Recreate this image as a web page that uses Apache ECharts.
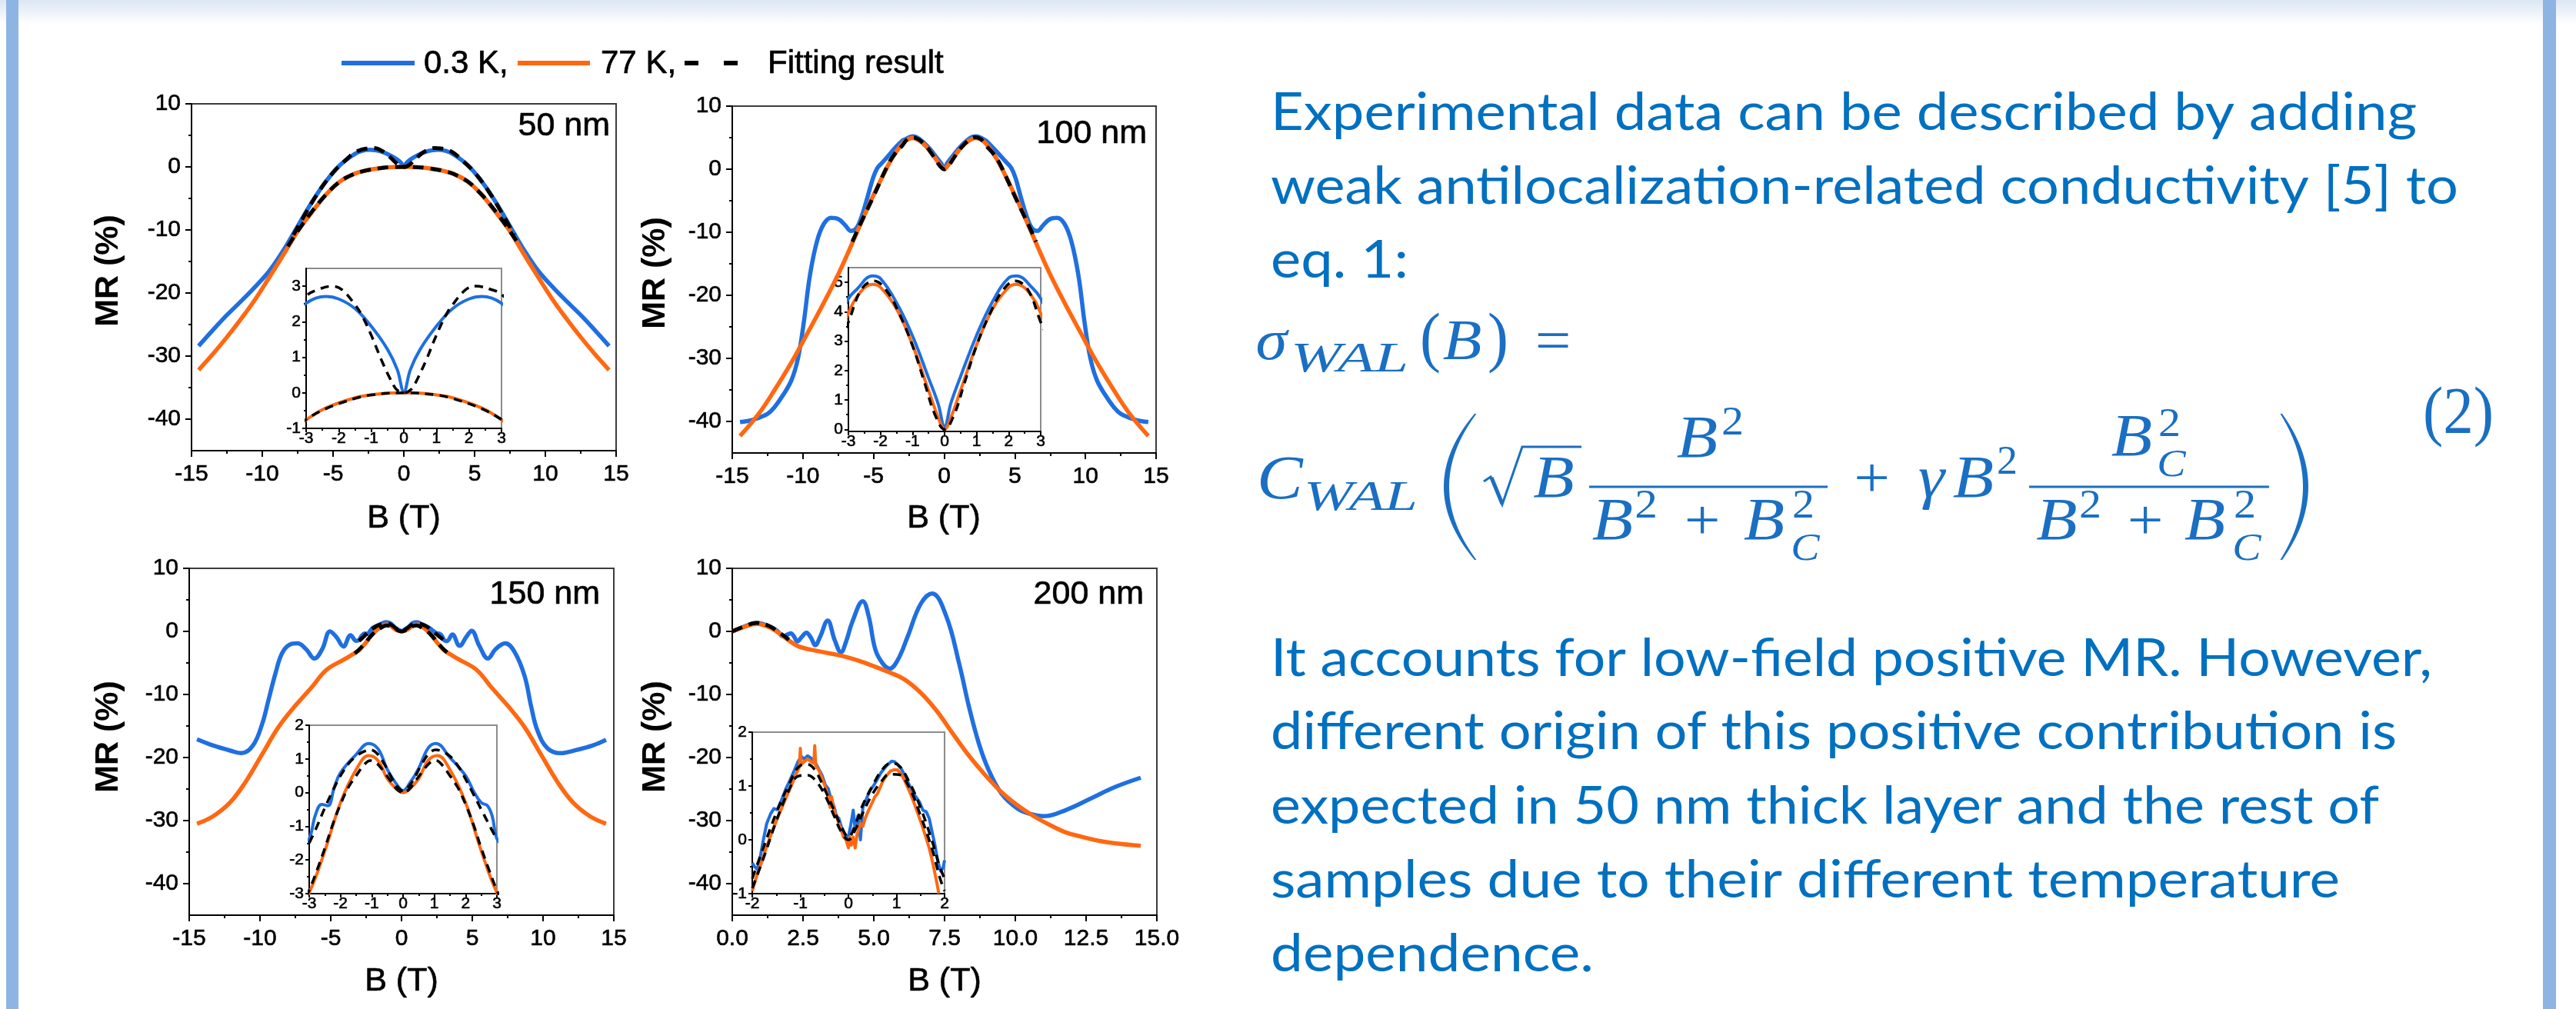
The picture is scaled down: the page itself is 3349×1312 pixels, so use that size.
<!DOCTYPE html>
<html><head><meta charset="utf-8">
<script src="https://cdn.jsdelivr.net/npm/echarts@6/dist/echarts.min.js"></script>
<style>html,body{margin:0;padding:0;background:#fff}#c{width:3349px;height:1312px}</style>
</head><body><div id="c"></div>
<script>
// ---------------- DATA ----------------
const legendLabels = ['0.3 K,', '77 K,', 'Fitting result'];
const panelTitles = ['50 nm', '100 nm', '150 nm', '200 nm'];
const xTitle = 'B (T)', yTitle = 'MR (%)';
const mainYMajors = [10, 0, -10, -20, -30, -40];
const mainYMinors = [5, -5, -15, -25, -35];
const in1YMajors = [-1, 0, 1, 2, 3], in1YMinors = [-0.5, 0.5, 1.5, 2.5];
const in2YMajors = [0, 1, 2, 3, 4, 5], in2YMinors = [0.5, 1.5, 2.5, 3.5, 4.5];
const in3YMajors = [-3, -2, -1, 0, 1, 2], in3YMinors = [-2.5, -1.5, -0.5, 0.5, 1.5];
const in4YMajors = [-1, 0, 1, 2], in4YMinors = [-0.5, 0.5, 1.5];

// 50 nm
const p1Blue = [[-14.5,-28.4],[-13.5,-25.9],[-12.5,-23.5],[-11.5,-21.3],[-10.5,-19.0],[-9.5,-16.5],[-8.5,-13.2],[-7.5,-9.4],[-6.5,-5.6],[-5.5,-2.3],[-4.5,0.3],[-3.5,2.0],[-3.0,2.52],[-2.4,2.71],[-2.0,2.64],[-1.5,2.37],[-1.0,1.87],[-0.5,1.22],[-0.2,0.65],[0,0.03],[0.2,0.65],[0.5,1.22],[1.0,1.87],[1.5,2.37],[2.0,2.64],[2.4,2.71],[3.0,2.52],[3.5,2.0],[4.5,0.3],[5.5,-2.3],[6.5,-5.6],[7.5,-9.4],[8.5,-13.2],[9.5,-16.5],[10.5,-19.0],[11.5,-21.3],[12.5,-23.5],[13.5,-25.9],[14.5,-28.4]];
const p1Orange = [[-14.5,-32.2],[-13.5,-29.7],[-12.5,-27.0],[-11.5,-24.1],[-10.5,-21.0],[-9.5,-17.5],[-8.5,-13.9],[-7.5,-10.2],[-6.5,-7.2],[-5.5,-4.4],[-4.5,-2.3],[-3.5,-1.1],[-3.0,-0.76],[-2.4,-0.43],[-1.5,-0.14],[-1.0,-0.06],[-0.5,-0.01],[0,0],[0.5,-0.01],[1.0,-0.06],[1.5,-0.14],[2.4,-0.43],[3.0,-0.76],[3.5,-1.1],[4.5,-2.3],[5.5,-4.4],[6.5,-7.2],[7.5,-10.2],[8.5,-13.9],[9.5,-17.5],[10.5,-21.0],[11.5,-24.1],[12.5,-27.0],[13.5,-29.7],[14.5,-32.2]];
const p1FitBlue = [[-7.8,-10.8],[-7,-7.6],[-6,-3.9],[-5,-0.9],[-4,1.3],[-3.5,2.25],[-3,2.73],[-2.7,2.88],[-2.2,3.0],[-1.9,2.9],[-1.5,2.48],[-1.3,2.2],[-1.0,1.62],[-0.7,0.95],[-0.45,0.45],[-0.25,0.12],[-0.1,0.02],[0,0],[0.1,0.02],[0.25,0.12],[0.45,0.45],[0.7,0.95],[1.0,1.62],[1.3,2.2],[1.5,2.48],[1.9,2.9],[2.2,3.0],[2.7,2.9],[3,2.77],[3.5,2.25],[4,1.3],[5,-0.9],[6,-3.9],[7,-7.6],[7.8,-10.8]];
const p1FitOrange = [[-8.2,-12.6],[-7.5,-10.2],[-6.5,-7.1],[-5.5,-4.4],[-4.5,-2.3],[-3.5,-1.1],[-3,-0.75],[-2.4,-0.45],[-1.5,-0.16],[-1,-0.06],[0,0],[1,-0.06],[1.5,-0.16],[2.4,-0.45],[3,-0.75],[3.5,-1.1],[4.5,-2.3],[5.5,-4.4],[6.5,-7.1],[7.5,-10.2],[8.2,-12.6]];

// 100 nm
const p2Blue = [[-14.45,-40.1],[-13.5,-39.7],[-12.5,-38.8],[-12.0,-37.7],[-11.4,-35.8],[-10.8,-33.4],[-10.35,-30.0],[-9.95,-24.5],[-9.5,-16.8],[-9.0,-11.4],[-8.5,-8.6],[-8.0,-7.7],[-7.5,-7.9],[-7.0,-8.9],[-6.6,-9.8],[-6.2,-9.3],[-5.8,-7.2],[-5.4,-4.2],[-5.05,-1.5],[-4.75,0.1],[-4.4,1.0],[-4.0,2.0],[-3.5,3.3],[-3.0,4.45],[-2.75,4.75],[-2.25,5.22],[-2.0,5.13],[-1.5,4.31],[-1.0,3.18],[-0.5,1.75],[-0.2,0.87],[0,0.1],[0.2,0.9],[0.5,1.8],[1.0,3.2],[1.5,4.35],[2.0,5.15],[2.25,5.22],[2.75,4.8],[3.0,4.45],[3.5,3.3],[4.0,2.1],[4.4,1.1],[4.75,0.2],[5.05,-1.4],[5.4,-4.2],[5.8,-7.2],[6.2,-9.3],[6.6,-9.8],[7.0,-8.9],[7.5,-7.9],[8.0,-7.7],[8.5,-8.6],[9.0,-11.4],[9.5,-16.8],[9.95,-24.5],[10.35,-30.0],[10.8,-33.4],[11.4,-35.8],[12.0,-37.7],[12.5,-38.8],[13.5,-39.7],[14.45,-40.1]];
const p2Orange = [[-14.45,-42.3],[-13.1,-38.7],[-12.0,-35.0],[-10.8,-30.6],[-9.7,-26.1],[-8.5,-21.1],[-7.4,-16.2],[-6.25,-10.4],[-5.1,-4.6],[-4.0,0.5],[-3.5,2.4],[-3.0,3.95],[-2.6,4.7],[-2.25,4.93],[-2.0,4.83],[-1.5,4.1],[-1.0,2.87],[-0.5,1.33],[-0.2,0.41],[0,0],[0.2,0.41],[0.5,1.33],[1.0,2.87],[1.5,4.1],[2.0,4.83],[2.25,4.93],[2.6,4.7],[3.0,3.95],[3.5,2.4],[4.0,0.5],[5.1,-4.6],[6.25,-10.4],[7.4,-16.2],[8.5,-21.1],[9.7,-26.1],[10.8,-30.6],[12.0,-35.0],[13.1,-38.7],[14.45,-42.3]];
const p2Fit = [[-6.5,-11.5],[-6,-9.0],[-5,-4.3],[-4,0.6],[-3.5,2.4],[-3,3.65],[-2.6,4.75],[-2.2,5.05],[-1.8,4.7],[-1.4,3.9],[-1,2.85],[-0.6,1.5],[-0.3,0.5],[0,0],[0.3,0.5],[0.6,1.5],[1,2.85],[1.4,3.9],[1.8,4.7],[2.2,5.05],[2.6,4.75],[3,3.65],[3.5,2.4],[4,0.6],[5,-4.3],[6,-9.0],[6.5,-11.5]];

// 150 nm
const p3Blue = [[-14.45,-17.1],[-13.3,-18.1],[-12.1,-18.9],[-11.3,-19.3],[-10.5,-18.1],[-9.85,-14.7],[-9.4,-10.9],[-8.9,-6.6],[-8.45,-3.5],[-7.9,-2.1],[-7.35,-1.9],[-6.75,-2.8],[-6.15,-4.3],[-5.6,-2.8],[-5.05,0.0],[-4.6,-0.9],[-4.1,-2.4],[-3.6,-0.6],[-3.2,-1.5],[-3.0,-1.37],[-2.8,-0.66],[-2.6,-0.35],[-2.4,-0.39],[-2.2,0.15],[-2.0,0.59],[-1.5,1.13],[-1.1,1.46],[-0.8,1.3],[-0.5,0.68],[-0.2,0.24],[0,0.06],[0.2,0.26],[0.5,0.72],[0.8,1.32],[1.05,1.46],[1.5,1.04],[2.0,0.5],[2.25,0.05],[2.5,-0.3],[2.7,-0.39],[2.85,-0.7],[3.0,-1.37],[3.2,-1.55],[3.6,-0.5],[4.1,-2.3],[4.6,-0.8],[4.95,0.1],[5.5,-2.3],[6.1,-4.3],[6.65,-2.8],[7.33,-1.9],[8.0,-3.3],[8.7,-7.1],[9.16,-11.9],[9.6,-15.7],[10.3,-18.5],[11.2,-19.3],[12.36,-18.8],[13.5,-18.1],[14.45,-17.2]];
const p3Orange = [[-14.45,-30.5],[-13.3,-29.3],[-12.1,-27.1],[-11.0,-23.8],[-9.85,-19.5],[-8.7,-15.2],[-7.55,-11.9],[-6.4,-9.0],[-5.3,-6.1],[-4.1,-4.5],[-3.5,-3.7],[-3.0,-2.97],[-2.5,-1.73],[-2.0,-0.3],[-1.5,0.68],[-1.1,1.1],[-0.8,0.95],[-0.5,0.41],[-0.2,0.1],[0,0],[0.2,0.1],[0.5,0.41],[0.8,0.95],[1.1,1.1],[1.5,0.68],[2.0,-0.3],[2.5,-1.73],[3.0,-2.97],[3.5,-3.7],[4.1,-4.5],[5.3,-6.1],[6.4,-9.0],[7.55,-11.9],[8.7,-15.2],[9.85,-19.5],[11.0,-23.8],[12.1,-27.1],[13.3,-29.3],[14.45,-30.5]];
const p3FitBlue = [[-3,-1.5],[-2.75,-1.0],[-2.5,-0.45],[-2.25,0.05],[-2,0.5],[-1.75,0.85],[-1.5,1.08],[-1.25,1.22],[-1.05,1.27],[-0.85,1.18],[-0.6,0.85],[-0.4,0.5],[-0.2,0.2],[0,0.05],[0.2,0.2],[0.4,0.5],[0.6,0.85],[0.85,1.18],[1.05,1.27],[1.25,1.22],[1.5,1.08],[1.75,0.8],[2,0.4],[2.25,-0.05],[2.5,-0.5],[2.75,-0.95],[3,-1.4]];
const p3FitOrange = [[-3.3,-3.5],[-3,-2.9],[-2.75,-2.3],[-2.5,-1.65],[-2.25,-0.95],[-2,-0.35],[-1.75,0.15],[-1.5,0.5],[-1.25,0.82],[-1.05,0.95],[-0.85,0.88],[-0.6,0.6],[-0.4,0.35],[-0.2,0.1],[0,0],[0.2,0.1],[0.4,0.35],[0.6,0.6],[0.85,0.88],[1.05,0.95],[1.25,0.82],[1.5,0.5],[1.75,0.15],[2,-0.35],[2.25,-0.95],[2.5,-1.65],[2.75,-2.3],[3,-2.9],[3.3,-3.5]];

// 200 nm
const p4Blue = [[0,0],[0.2,0.35],[0.45,0.8],[0.85,1.35],[1.1,1.15],[1.35,0.75],[1.6,0.05],[1.8,-0.8],[1.95,-0.5],[2.07,-0.3],[2.18,-0.8],[2.3,-1.6],[2.45,-0.9],[2.62,-0.2],[2.78,-1.0],[2.93,-2.2],[3.1,-0.9],[3.37,1.7],[3.62,-1.4],[3.84,-3.3],[4.03,-1.5],[4.24,1.5],[4.61,4.8],[4.82,2.4],[5.05,-2.8],[5.3,-5.0],[5.56,-5.9],[5.85,-4.5],[6.19,-0.9],[6.65,4.3],[7.06,6.0],[7.56,2.4],[8.02,-5.2],[8.36,-11.9],[8.7,-17.6],[9.05,-21.9],[9.51,-25.7],[10.08,-28.1],[10.5,-28.9],[11.0,-29.3],[11.8,-28.3],[12.71,-26.4],[13.51,-24.7],[14.43,-23.2]];
const p4Orange = [[0,0],[0.4,0.7],[0.87,1.2],[1.38,0.5],[1.84,-0.9],[2.3,-2.3],[2.99,-3.1],[3.79,-3.8],[4.36,-4.5],[4.93,-5.4],[5.5,-6.4],[6.08,-7.6],[6.65,-9.7],[7.22,-12.6],[7.79,-16.2],[8.36,-19.7],[8.94,-22.8],[9.51,-25.5],[10.08,-27.6],[10.65,-29.3],[11.22,-30.7],[11.8,-31.9],[12.37,-32.6],[12.94,-33.2],[13.51,-33.6],[14.43,-34.0]];
const p4Fit = [[0,0],[0.4,0.75],[0.85,1.35],[1.3,0.85],[1.7,-0.3],[2.0,-1.3]];
const p4InBlue = [[-2,-0.43],[-1.95,-0.5],[-1.9,-0.55],[-1.85,-0.4],[-1.78,-0.05],[-1.7,0.3],[-1.62,0.48],[-1.55,0.58],[-1.48,0.56],[-1.4,0.72],[-1.3,0.95],[-1.22,1.1],[-1.12,1.3],[-1.05,1.45],[-0.98,1.55],[-0.92,1.5],[-0.85,1.56],[-0.78,1.52],[-0.7,1.45],[-0.62,1.32],[-0.55,1.2],[-0.48,1.02],[-0.42,0.95],[-0.36,0.75],[-0.3,0.62],[-0.25,0.45],[-0.2,0.4],[-0.15,0.25],[-0.1,0.15],[-0.05,0.08],[0,0.05],[0.05,0.28],[0.1,0.55],[0.14,0.2],[0.2,0.45],[0.25,0.0],[0.3,0.6],[0.37,0.75],[0.45,0.92],[0.52,1.0],[0.6,1.12],[0.68,1.25],[0.75,1.33],[0.82,1.4],[0.9,1.46],[0.96,1.45],[1.02,1.4],[1.1,1.32],[1.17,1.2],[1.25,1.05],[1.33,0.9],[1.4,0.8],[1.48,0.7],[1.55,0.55],[1.62,0.52],[1.68,0.4],[1.74,0.15],[1.8,-0.1],[1.86,-0.4],[1.92,-0.58],[1.97,-0.52],[2,-0.38]];
const p4InOrange = [[-2,-0.95],[-1.9,-0.65],[-1.8,-0.4],[-1.7,-0.12],[-1.6,0.12],[-1.5,0.35],[-1.4,0.56],[-1.3,0.78],[-1.2,0.98],[-1.1,1.2],[-1.02,1.35],[-1.0,1.7],[-0.98,1.4],[-0.92,1.45],[-0.85,1.5],[-0.78,1.45],[-0.72,1.42],[-0.7,1.75],[-0.68,1.38],[-0.62,1.3],[-0.55,1.15],[-0.48,0.98],[-0.42,0.8],[-0.38,0.6],[-0.35,0.8],[-0.3,0.55],[-0.25,0.45],[-0.2,0.3],[-0.15,0.18],[-0.1,0.05],[-0.05,0.0],[0,-0.15],[0.03,0.05],[0.06,-0.1],[0.1,0.05],[0.14,-0.15],[0.18,0.1],[0.25,0.3],[0.3,0.25],[0.35,0.4],[0.42,0.55],[0.5,0.7],[0.55,0.8],[0.6,0.85],[0.65,0.95],[0.72,1.1],[0.8,1.2],[0.88,1.28],[0.95,1.3],[1.02,1.3],[1.1,1.22],[1.18,1.08],[1.27,0.9],[1.36,0.7],[1.44,0.5],[1.52,0.3],[1.6,0.08],[1.68,-0.15],[1.76,-0.45],[1.84,-0.8],[1.88,-1.0]];
const p4InFitA = [[-2,-0.72],[-1.75,-0.1],[-1.5,0.5],[-1.25,1.0],[-1.0,1.38],[-0.85,1.4],[-0.7,1.3],[-0.5,0.95],[-0.3,0.55],[-0.15,0.25],[0,0.05],[0.15,0.3],[0.3,0.65],[0.5,1.0],[0.7,1.3],[0.88,1.42],[1.05,1.38],[1.25,1.1],[1.5,0.6],[1.75,-0.05],[1.9,-0.5],[2,-0.72]];
const p4InFitB = [[-2,-0.9],[-1.75,-0.3],[-1.5,0.35],[-1.25,0.9],[-1.05,1.18],[-0.85,1.2],[-0.7,1.12],[-0.5,0.85],[-0.3,0.45],[-0.15,0.15],[0,0],[0.15,0.2],[0.3,0.5],[0.5,0.85],[0.7,1.1],[0.85,1.22],[1.05,1.21],[1.25,1.0],[1.5,0.45],[1.75,-0.2],[1.9,-0.7],[2,-0.95]];

const paraLines1 = ['Experimental data can be described by adding', 'weak antilocalization-related conductivity [5] to', 'eq. 1:'];
const paraLines2 = ['It accounts for low-field positive MR. However,', 'different origin of this positive contribution is', 'expected in 50 nm thick layer and the rest of', 'samples due to their different temperature', 'dependence.'];

// ---------------- STYLE / LAYOUT ----------------
const BLUE = '#1F6FE0', ORANGE = '#FF6811', TXT = '#0070C0', FC = '#1A6FC2';
const SANS = '"Liberation Sans", Arial, sans-serif';
const SERIF = '"Liberation Serif", "Times New Roman", serif';
const mctx = document.createElement('canvas').getContext('2d');
function tw(text, font) { mctx.font = font; return mctx.measureText(text).width; }
function midOff(font) {
  mctx.font = font; const m = mctx.measureText('Hg');
  if (m.fontBoundingBoxAscent !== undefined) return (m.fontBoundingBoxAscent - m.fontBoundingBoxDescent) / 2;
  return parseFloat(font.match(/(\d+)px/)[1]) * 0.34;
}
function txt(text, font, x, baseline, fill, align, extra, stroke) {
  const st = { text: text, font: font, fill: fill, align: align || 'left', textAlign: align || 'left', verticalAlign: 'middle', textVerticalAlign: 'middle' };
  if (stroke) { st.stroke = fill; st.lineWidth = stroke; }
  return Object.assign({ type: 'text', x: x, y: baseline - midOff(font), z: 100, silent: true, style: st }, extra || {});
}
function fit(text, font, x0, x1, baseline, fill) {
  return txt(text, font, x0, baseline, fill, 'left', { scaleX: (x1 - x0) / tw(text, font) });
}
function place(text, font, x0, x1, baseline, fill) {
  const w = tw(text, font), target = x1 - x0;
  const s = Math.max(0.85, Math.min(1.12, target / w));
  return txt(text, font, x0 + (target - w * s) / 2, baseline, fill, 'left', { scaleX: s });
}
function quadPts(ax, ay, cx, cy, bx, by, n) {
  const pts = [];
  for (let i = 0; i <= n; i++) { const t = i / n, u = 1 - t;
    pts.push([u * u * ax + 2 * t * u * cx + t * t * bx, u * u * ay + 2 * t * u * cy + t * t * by]); }
  return pts;
}
function bigParen(xEnd, xApex, top, bottom, thick, dir) {
  const mid = (top + bottom) / 2;
  const outer = quadPts(xEnd, top, 2 * xApex - xEnd, mid, xEnd, bottom, 40);
  const xe2 = xEnd + dir * 2.5, xa2 = xApex + dir * thick;
  const inner = quadPts(xe2, bottom, 2 * xa2 - xe2, mid, xe2, top, 40);
  return { type: 'polygon', z: 100, silent: true, shape: { points: outer.concat(inner) }, style: { fill: FC } };
}

const grids = [
  { left: 249, top: 135, width: 552, height: 451 },
  { left: 952, top: 138, width: 551, height: 451 },
  { left: 246, top: 739, width: 552, height: 451 },
  { left: 952, top: 739, width: 552, height: 451 },
  { left: 398, top: 349, width: 254, height: 208 },
  { left: 1103, top: 348, width: 250, height: 213 },
  { left: 402, top: 943, width: 244, height: 219 },
  { left: 978, top: 952, width: 250, height: 210 }
].map((g, i) => Object.assign({ show: true, borderWidth: 2, borderColor: i < 4 ? '#3c3c3c' : '#8c8c8c', backgroundColor: i < 4 ? 'rgba(0,0,0,0)' : '#fff' }, g));

const AXC = '#000';
function labelStyle(fs, margin) {
  return { show: true, fontSize: fs, fontFamily: SANS, color: '#000', margin: margin, textBorderColor: '#000', textBorderWidth: 0.6 };
}
function xAx(gi, min, max, interval, fs, tl, margin, fmt) {
  const a = { gridIndex: gi, type: 'value', min: min, max: max, interval: interval,
    axisLine: { show: true, onZero: false, lineStyle: { color: AXC, width: 2 } },
    axisTick: { show: true, inside: false, length: tl, lineStyle: { color: AXC, width: 2 } },
    minorTick: { show: true, splitNumber: 2, length: Math.round(tl / 2), lineStyle: { color: AXC, width: 2 } },
    axisLabel: labelStyle(fs, margin),
    splitLine: { show: false }, minorSplitLine: { show: false } };
  if (fmt) a.axisLabel.formatter = fmt;
  return a;
}
function yPair(gi, min, max, majors, minors, fs, tl, margin) {
  const lab = labelStyle(fs, margin); lab.customValues = majors;
  return [
    { gridIndex: gi, type: 'value', min: min, max: max, position: 'left',
      axisLine: { show: true, onZero: false, lineStyle: { color: AXC, width: 2 } },
      axisTick: { show: true, inside: false, length: tl, customValues: majors, lineStyle: { color: AXC, width: 2 } },
      axisLabel: lab, splitLine: { show: false } },
    { gridIndex: gi, type: 'value', min: min, max: max, position: 'left', offset: 0,
      axisLine: { show: false, onZero: false },
      axisTick: { show: true, inside: false, length: Math.round(tl / 2), customValues: minors, lineStyle: { color: AXC, width: 2 } },
      axisLabel: { show: false }, splitLine: { show: false } }
  ];
}
const xAxes = [
  xAx(0, -15, 15, 5, 30, 8, 16), xAx(1, -15, 15, 5, 30, 8, 16), xAx(2, -15, 15, 5, 30, 8, 16),
  xAx(3, 0, 15, 2.5, 30, 8, 16, function (v) { return v.toFixed(1); }),
  xAx(4, -3, 3, 1, 21, 5, 3), xAx(5, -3, 3, 1, 21, 5, 3), xAx(6, -3, 3, 1, 21, 5, 3), xAx(7, -2, 2, 1, 21, 5, 3)
];
const yAxes = [].concat(
  yPair(0, -45, 10, mainYMajors, mainYMinors, 30, 8, 14),
  yPair(1, -45, 10, mainYMajors, mainYMinors, 30, 8, 14),
  yPair(2, -45, 10, mainYMajors, mainYMinors, 30, 8, 14),
  yPair(3, -45, 10, mainYMajors, mainYMinors, 30, 8, 14),
  yPair(4, -1, 3.5, in1YMajors, in1YMinors, 21, 5, 7),
  yPair(5, -0.07, 5.5, in2YMajors, in2YMinors, 21, 5, 7),
  yPair(6, -3, 2, in3YMajors, in3YMinors, 21, 5, 7),
  yPair(7, -1, 2, in4YMajors, in4YMinors, 21, 5, 7)
);

function L(gi, data, color, width, dash, smooth, z) {
  return { type: 'line', xAxisIndex: gi, yAxisIndex: gi * 2, data: data, symbol: 'none', showSymbol: false,
    smooth: smooth, silent: true, z: z, lineStyle: { color: color, width: width, type: dash || 'solid', cap: 'butt', join: 'round' } };
}
const MW = 5.5, IW = 4, MD = [14, 9], ID = [11, 8];
const series = [
  L(0, p1Blue, BLUE, MW, null, 0.4, 2), L(0, p1Orange, ORANGE, MW, null, 0.4, 3),
  L(0, p1FitBlue, '#000', 5, MD, 0.4, 4), L(0, p1FitOrange, '#000', 5, MD, 0.4, 4),
  L(1, p2Blue, BLUE, MW, null, 0.4, 2), L(1, p2Orange, ORANGE, MW, null, 0.4, 3),
  L(1, p2Fit, '#000', 5, MD, 0.4, 4),
  L(2, p3Blue, BLUE, MW, null, 0.4, 2), L(2, p3Orange, ORANGE, MW, null, 0.4, 3),
  L(2, p3FitBlue, '#000', 5, MD, 0.4, 4), L(2, p3FitOrange, '#000', 5, MD, 0.4, 4),
  L(3, p4Blue, BLUE, MW, null, 0.4, 2), L(3, p4Orange, ORANGE, MW, null, 0.4, 3),
  L(3, p4Fit, '#000', 5, MD, 0.4, 4),
  L(4, p1Blue, BLUE, IW, null, 0.4, 12), L(4, p1Orange, ORANGE, IW, null, 0.4, 13),
  L(4, p1FitBlue, '#000', 3.5, ID, 0.4, 14), L(4, p1FitOrange, '#000', 3.5, ID, 0.4, 14),
  L(5, p2Blue, BLUE, IW, null, 0.4, 12), L(5, p2Orange, ORANGE, IW, null, 0.4, 13),
  L(5, p2Fit, '#000', 3.5, ID, 0.4, 14),
  L(6, p3Blue, BLUE, IW, null, 0.4, 12), L(6, p3Orange, ORANGE, IW, null, 0.4, 13),
  L(6, p3FitBlue, '#000', 3.5, ID, 0.4, 14), L(6, p3FitOrange, '#000', 3.5, ID, 0.4, 14),
  L(7, p4InBlue, BLUE, IW, null, false, 12), L(7, p4InOrange, ORANGE, IW, null, false, 13),
  L(7, p4InFitA, '#000', 3.5, ID, 0.4, 14), L(7, p4InFitB, '#000', 3.5, ID, 0.4, 14)
];

// ---------------- GRAPHIC (frame, legend, titles, text, formula) ----------------
const G = [];
G.push({ type: 'rect', z: 1, silent: true, shape: { x: 0, y: 0, width: 3349, height: 32 },
  style: { fill: new echarts.graphic.LinearGradient(0, 0, 0, 1, [{ offset: 0, color: '#DCE6F4' }, { offset: 1, color: '#FFFFFF' }]) } });
G.push({ type: 'rect', z: 2, silent: true, shape: { x: 8, y: 0, width: 16, height: 1312 }, style: { fill: '#8EB4E3' } });
G.push({ type: 'rect', z: 2, silent: true, shape: { x: 3306, y: 0, width: 17, height: 1312 }, style: { fill: '#8EB4E3' } });

// legend
const LF = '42px ' + SANS;
G.push({ type: 'line', z: 100, silent: true, shape: { x1: 444, y1: 82, x2: 539, y2: 82 }, style: { stroke: BLUE, lineWidth: 6 } });
G.push({ type: 'line', z: 100, silent: true, shape: { x1: 673, y1: 82, x2: 767, y2: 82 }, style: { stroke: ORANGE, lineWidth: 6 } });
G.push({ type: 'line', z: 100, silent: true, shape: { x1: 890, y1: 82, x2: 908, y2: 82 }, style: { stroke: '#000', lineWidth: 6 } });
G.push({ type: 'line', z: 100, silent: true, shape: { x1: 941, y1: 82, x2: 959, y2: 82 }, style: { stroke: '#000', lineWidth: 6 } });
G.push(txt(legendLabels[0], LF, 551, 98, '#000', 'left', null, 0.7));
G.push(txt(legendLabels[1], LF, 781, 98, '#000', 'left', null, 0.7));
G.push(txt(legendLabels[2], LF, 998, 98, '#000', 'left', null, 0.7));

// panel titles
const TF = '43px ' + SANS;
G.push(txt(panelTitles[0], TF, 793, 179, '#000', 'right', null, 0.7));
G.push(txt(panelTitles[1], TF, 1491, 189, '#000', 'right', null, 0.7));
G.push(txt(panelTitles[2], TF, 780, 788, '#000', 'right', null, 0.7));
G.push(txt(panelTitles[3], TF, 1487, 788, '#000', 'right', null, 0.7));
// axis titles
[[525, 689], [1227, 689], [522, 1291], [1228, 1291]].forEach(function (p) { G.push(txt(xTitle, TF, p[0], p[1], '#000', 'center', null, 0.7)); });
const MRF = 'bold 43px ' + SANS;
[[141, 352], [852, 355], [141, 958], [852, 958]].forEach(function (p) {
  G.push({ type: 'text', x: p[0], y: p[1], rotation: Math.PI / 2, z: 100, silent: true,
    style: { text: yTitle, font: MRF, fill: '#000', align: 'center', textAlign: 'center', verticalAlign: 'middle', textVerticalAlign: 'middle' } });
});

// paragraph text
const PF = '68px Lato, "Open Sans", sans-serif';
const para1 = [[3142, 174], [3196, 270], [1831, 366]];
paraLines1.forEach(function (t, i) { G.push(fit(t, PF, 1652, para1[i][0], para1[i][1], TXT)); });
const para2 = [[3162, 884], [3116, 979], [3093, 1076], [3042, 1172], [2072, 1268]];
paraLines2.forEach(function (t, i) { G.push(fit(t, PF, 1652, para2[i][0], para2[i][1], TXT)); });

// formula
const IT = 'italic 74px ' + SERIF, IT2 = 'italic 78px ' + SERIF, UP = '74px ' + SERIF, SUBI = 'italic 54px ' + SERIF, SUBC = 'italic 50px ' + SERIF, SUP = '53px ' + SERIF, PAR = '86px ' + SERIF;
const fglyphs = [
  ['σ', IT, 1630, 1676, 473], ['WAL', SUBI, 1678, 1831, 487], ['(', PAR, 1846, 1873, 473], ['B', IT, 1873, 1929, 473], [')', PAR, 1934, 1961, 473], ['=', UP, 1990, 2048, 473],
  ['C', 'italic 80px ' + SERIF, 1633, 1695, 654], ['WAL', SUBI, 1695, 1843, 667],
  ['B', IT2, 1990, 2050, 652],
  ['B', IT2, 2175, 2238, 600], ['2', SUP, 2238, 2267, 569],
  ['B', IT2, 2069, 2124, 707], ['2', SUP, 2124, 2156, 677], ['+', UP, 2184, 2242, 707], ['B', IT2, 2261, 2326, 707], ['2', SUP, 2330, 2359, 677], ['C', SUBC, 2324, 2370, 732],
  ['+', UP, 2405, 2462, 652], ['γ', IT2, 2485, 2537, 652], ['B', IT2, 2537, 2594, 652], ['2', SUP, 2596, 2623, 620],
  ['B', IT2, 2743, 2800, 598], ['C', SUBC, 2800, 2846, 623], ['2', SUP, 2806, 2835, 571],
  ['B', IT2, 2646, 2702, 707], ['2', SUP, 2703, 2732, 677], ['+', UP, 2760, 2818, 707], ['B', IT2, 2835, 2898, 707], ['2', SUP, 2904, 2933, 677], ['C', SUBC, 2898, 2944, 732],
  ['(2)', PAR, 3150, 3242, 569]
];
fglyphs.forEach(function (g) { G.push(g[0].length > 1 && g[0] !== '(2)' ? fit(g[0], g[1], g[2], g[3], g[4], FC) : place(g[0], g[1], g[2], g[3], g[4], FC)); });
G.push({ type: 'line', z: 100, silent: true, shape: { x1: 2066, y1: 633, x2: 2376, y2: 633 }, style: { stroke: FC, lineWidth: 3 } });
G.push({ type: 'line', z: 100, silent: true, shape: { x1: 2638, y1: 633, x2: 2950, y2: 633 }, style: { stroke: FC, lineWidth: 3 } });
G.push({ type: 'polyline', z: 100, silent: true, shape: { points: [[1929, 626], [1938, 620], [1953, 656], [1979, 581], [2056, 581]] }, style: { stroke: FC, lineWidth: 3, fill: null } });
G.push({ type: 'line', z: 100, silent: true, shape: { x1: 1939, y1: 621, x2: 1953, y2: 655 }, style: { stroke: FC, lineWidth: 5 } });
G.push(bigParen(1917, 1877, 538, 728, 7, 1));
G.push(bigParen(2967, 3001, 538, 728, 7, -1));

const chart = echarts.init(document.getElementById('c'), null, { renderer: 'canvas' });
chart.setOption({
  animation: false,
  backgroundColor: '#fff',
  grid: grids,
  xAxis: xAxes,
  yAxis: yAxes,
  series: series,
  graphic: { elements: G }
});
</script></body></html>
